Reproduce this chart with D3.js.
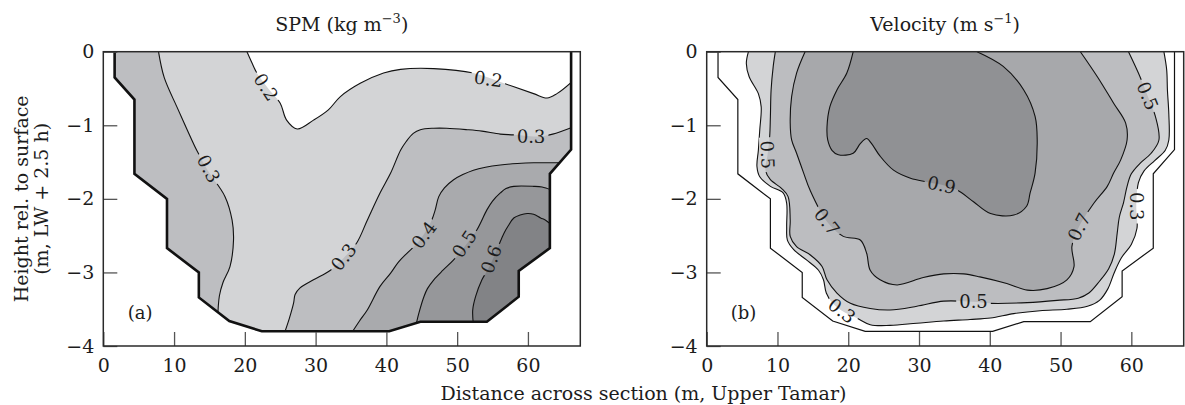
<!DOCTYPE html>
<html><head><meta charset="utf-8">
<script src="https://cdn.jsdelivr.net/npm/d3@7"></script>
<style>
body{margin:0;background:#fff;}
svg text{font-family:"DejaVu Serif",serif;fill:#1c1c1c;}
</style></head><body>
<svg id="chart" width="1185" height="405"></svg>
<script>
// ---------- data ----------
const xTicks = [0,10,20,30,40,50,60];
const yTicks = [0,-1,-2,-3,-4];
const xDomain = [0,67.4];
const yDomain = [-4,0];
const panelTitles = ["SPM (kg m", "Velocity (m s"];
const titleExponents = ["−3", "−1"];
const panelLetters = ["(a)", "(b)"];
const xTitle = "Distance across section (m, Upper Tamar)";
const yTitleLines = ["Height rel. to surface", "(m, LW + 2.5 h)"];

// channel cross-section outline (distance m, height m)
const section = [[1.6,0],[1.6,-0.35],[4.4,-0.65],[4.4,-1.66],[9.0,-2.0],[9.0,-2.67],[13.5,-3.0],[13.5,-3.34],[17.8,-3.66],[22.4,-3.80],[40.4,-3.80],[44.8,-3.67],[54.2,-3.67],[58.7,-3.33],[58.7,-2.98],[63.1,-2.67],[63.1,-1.66],[66.1,-1.33],[66.1,0]];

// SPM contours
const spm02 = [[20.3,0],[21.0,-0.15],[21.7,-0.29],[23.3,-0.50],[25.0,-0.70],[25.9,-0.93],[27.4,-1.05],[29.7,-0.93],[31.8,-0.79],[33.5,-0.61],[36.3,-0.43],[39.6,-0.29],[42.0,-0.24],[46.7,-0.23],[52.3,-0.29],[56.6,-0.43],[60.8,-0.57],[62.7,-0.63],[64.1,-0.57],[66.2,-0.41]];
const spm03L = [[7.8,0],[8.6,-0.35],[10.4,-0.75],[11.8,-1.05],[13.2,-1.34],[14.8,-1.62],[17.2,-1.97],[18.2,-2.29],[18.4,-2.56],[17.9,-2.92],[16.9,-3.14],[16.4,-3.32],[16.15,-3.65]];
const spm03R = [[66.2,-1.03],[63.5,-1.12],[61.8,-1.15],[60.4,-1.15],[58.0,-1.13],[56.1,-1.12],[53.5,-1.08],[51.4,-1.06],[48.5,-1.04],[46.7,-1.04],[44.8,-1.06],[43.8,-1.11],[42.8,-1.22],[42.0,-1.34],[40.6,-1.65],[39.1,-1.92],[37.3,-2.29],[35.8,-2.60],[34.0,-2.80],[32.1,-2.97],[29.7,-3.10],[27.8,-3.21],[27.1,-3.30],[26.9,-3.41],[26.3,-3.62],[25.5,-3.85]];
const spm04 = [[64.6,-1.51],[62.5,-1.51],[60.8,-1.51],[58.5,-1.52],[56.1,-1.54],[54.0,-1.57],[52.3,-1.61],[50.8,-1.67],[49.5,-1.74],[48.2,-1.85],[47.4,-1.97],[46.9,-2.15],[46.4,-2.29],[45.3,-2.48],[44.2,-2.62],[42.9,-2.74],[41.7,-2.86],[40.6,-3.01],[39.1,-3.19],[37.3,-3.51],[36.2,-3.66],[34.9,-3.85]];
const spm05 = [[63.3,-1.88],[62.0,-1.84],[60.8,-1.83],[58.0,-1.83],[56.9,-1.86],[56.1,-1.92],[55.0,-2.03],[54.2,-2.15],[52.8,-2.42],[51.2,-2.63],[49.5,-2.83],[48.0,-2.97],[46.7,-3.10],[45.8,-3.22],[45.3,-3.33],[44.6,-3.55],[44.1,-3.75]];
const spm06 = [[63.3,-2.35],[62.5,-2.29],[61.8,-2.26],[60.8,-2.21],[59.9,-2.20],[58.9,-2.22],[58.0,-2.26],[57.2,-2.37],[56.6,-2.47],[55.8,-2.65],[54.9,-2.85],[54.1,-3.00],[53.5,-3.10],[52.6,-3.33],[52.2,-3.51],[52.3,-3.72]];
// closing points (along the frame) for the filled bands
const spmClose02 = [[67.4,-0.41],[67.4,0]];
const spmClose03L = [[16.15,-4],[0,-4],[0,0]];
const spmClose03R = [[25.5,-4],[67.4,-4],[67.4,-1.03]];
const spmClose04 = [[34.9,-4],[67.4,-4],[67.4,-1.51]];
const spmClose05 = [[44.1,-4],[67.4,-4],[67.4,-1.88]];
const spmClose06 = [[52.3,-4],[67.4,-4],[67.4,-2.35]];
const spmLabelText = ["0.2","0.3","0.2","0.3","0.3","0.4","0.5","0.6"];
const spmLabelPos = [[23.0,-0.48],[14.9,-1.59],[54.4,-0.37],[60.45,-1.15],[33.95,-2.79],[45.3,-2.49],[51.0,-2.61],[54.8,-2.82]];
const spmLabelAngle = [57,62,8,1,-52,-53,-56,-70];

// Velocity contours
const vel03 = [[5.9,0],[5.6,-0.16],[6.0,-0.34],[7.3,-0.57],[7.7,-0.75],[7.5,-1.06],[7.3,-1.34],[7.1,-1.56],[7.5,-1.70],[9.0,-1.83],[10.8,-1.92],[11.3,-2.06],[11.3,-2.38],[11.4,-2.56],[12.3,-2.69],[14.1,-2.83],[15.8,-2.97],[16.5,-3.10],[16.9,-3.28],[17.8,-3.42],[19.1,-3.52],[21.2,-3.62],[23.1,-3.71],[25.9,-3.72],[29.7,-3.69],[33.5,-3.66],[37.2,-3.64],[40.1,-3.62],[43.4,-3.56],[47.1,-3.52],[50.9,-3.50],[53.8,-3.46],[55.5,-3.38],[56.7,-3.22],[57.6,-3.00],[58.6,-2.80],[60.0,-2.62],[60.8,-2.40],[60.7,-2.10],[61.0,-1.78],[61.8,-1.62],[63.3,-1.48],[64.8,-1.34],[65.3,-1.20],[65.3,-0.85],[65.1,-0.52],[65.0,-0.25],[64.6,0]];
const vel05 = [[9.7,0],[9.4,-0.20],[9.1,-0.52],[9.0,-0.88],[8.9,-1.15],[8.6,-1.40],[8.3,-1.61],[9.0,-1.74],[10.6,-1.86],[11.5,-1.97],[11.8,-2.29],[11.8,-2.51],[12.7,-2.65],[14.6,-2.76],[16.3,-2.92],[17.0,-3.10],[18.4,-3.28],[20.3,-3.42],[23.1,-3.49],[25.9,-3.51],[29.7,-3.46],[33.5,-3.39],[37.7,-3.40],[40.1,-3.42],[45.3,-3.41],[49.5,-3.38],[52.5,-3.35],[54.0,-3.28],[55.5,-3.12],[56.8,-2.95],[57.6,-2.75],[58.0,-2.47],[58.3,-2.25],[58.9,-2.05],[59.4,-1.83],[60.0,-1.66],[61.2,-1.52],[62.8,-1.38],[63.9,-1.20],[63.4,-0.88],[62.3,-0.60],[61.0,-0.29],[59.6,0]];
const vel07 = [[13.9,0],[12.7,-0.29],[12.0,-0.61],[11.8,-0.97],[12.0,-1.20],[12.7,-1.38],[13.7,-1.65],[14.6,-1.88],[17.0,-2.31],[19.3,-2.51],[21.7,-2.56],[22.6,-2.74],[23.1,-2.97],[24.5,-3.10],[26.9,-3.17],[30.6,-3.07],[33.5,-3.02],[36.3,-3.02],[38.6,-3.06],[42.4,-3.15],[45.3,-3.24],[48.1,-3.22],[50.9,-3.10],[51.9,-2.92],[51.6,-2.65],[52.6,-2.38],[54.7,-2.06],[56.6,-1.83],[57.5,-1.65],[58.5,-1.47],[59.4,-1.20],[59.2,-0.97],[57.5,-0.70],[55.2,-0.34],[52.8,0]];
const vel09 = [[20.7,0],[19.8,-0.29],[18.4,-0.52],[17.4,-0.75],[17.0,-1.02],[17.1,-1.20],[17.7,-1.34],[18.6,-1.40],[20.7,-1.38],[21.7,-1.25],[22.6,-1.18],[23.3,-1.25],[24.5,-1.42],[26.4,-1.61],[28.8,-1.72],[31.1,-1.77],[33.2,-1.81],[35.4,-1.88],[37.7,-2.04],[40.1,-2.20],[43.4,-2.22],[45.2,-2.10],[45.7,-1.92],[46.4,-1.65],[46.7,-1.20],[46.4,-0.88],[44.8,-0.52],[41.9,-0.20],[38.2,0]];
const velLabelText = ["0.5","0.7","0.3","0.9","0.5","0.7","0.3","0.5"];
const velLabelPos = [[8.6,-1.40],[17.0,-2.31],[19.1,-3.52],[33.2,-1.81],[37.7,-3.40],[52.6,-2.38],[60.7,-2.10],[62.3,-0.60]];
const velLabelAngle = [88,52,38,12,0,-63,90,68];

// ---------- drawing ----------
const svg = d3.select('#chart');
const defs = svg.append('defs');
const W = 477, H = 294.3, TOP = 51.7;
const PANEL_LEFT = [103.3, 706.7];
const x = d3.scaleLinear().domain(xDomain).range([0, W]);
const y = d3.scaleLinear().domain(yDomain).range([H, 0]);
const smooth = d3.line().x(d=>x(d[0])).y(d=>y(d[1])).curve(d3.curveCatmullRom.alpha(0.5));
const straight = d3.line().x(d=>x(d[0])).y(d=>y(d[1]));
function region(pts, close){ let p = smooth(pts); close.forEach(c=>{ p += `L${x(c[0])},${y(c[1])}`; }); return p + 'Z'; }
const intFmt = d3.format('d');

function panel(i, cfg){
  const g = svg.append('g').attr('transform', `translate(${PANEL_LEFT[i]},${TOP})`);
  const id = 'p'+i;
  defs.append('clipPath').attr('id', id+'clip').append('path').attr('d', straight(section)+'Z');
  const fills = g.append('g').attr('clip-path', `url(#${id}clip)`);
  fills.append('path').attr('d', straight(section)+'Z').attr('fill', cfg.base);
  cfg.fills.forEach(f => fills.append('path').attr('d', region(f[0], f[1])).attr('fill', f[2]));
  // mask for label gaps
  const mask = defs.append('mask').attr('id', id+'mask').attr('maskUnits','userSpaceOnUse')
    .attr('x',-20).attr('y',-20).attr('width',W+40).attr('height',H+40);
  mask.append('rect').attr('x',-20).attr('y',-20).attr('width',W+40).attr('height',H+40).attr('fill','#fff');
  const lines = g.append('g').attr('clip-path', `url(#${id}clip)`).append('g').attr('mask', `url(#${id}mask)`);
  cfg.lines.forEach(l => lines.append('path').attr('d', smooth(l)).attr('fill','none').attr('stroke','#111').attr('stroke-width',1.1));
  // boundary
  g.append('path').attr('d', straight(section)).attr('fill','none').attr('stroke','#111')
    .attr('stroke-width', cfg.boundaryWidth).attr('stroke-linejoin','miter');
  // labels
  cfg.labelText.forEach((t, k) => {
    const p = cfg.labelPos[k], a = cfg.labelAngle[k];
    const tx = g.append('text').attr('transform', `translate(${x(p[0])},${y(p[1])}) rotate(${a})`)
      .attr('text-anchor','middle').attr('dy','0.36em').attr('font-size',18).text(t);
    const w = tx.node().getComputedTextLength();
    mask.append('rect').attr('x', -w/2-3).attr('y', -8).attr('width', w+6).attr('height', 16)
      .attr('fill','#000').attr('transform', `translate(${x(p[0])},${y(p[1])}) rotate(${a})`);
  });
  // axes
  const ax = g.append('g').attr('transform', `translate(0,${H})`)
    .call(d3.axisBottom(x).tickValues(xTicks).tickFormat(intFmt).tickSize(-14).tickSizeOuter(0).tickPadding(13));
  const ay = g.append('g')
    .call(d3.axisLeft(y).tickValues(yTicks).tickFormat(intFmt).tickSize(-14).tickSizeOuter(0).tickPadding(9));
  [ax, ay].forEach(a => {
    a.select('.domain').remove();
    a.selectAll('line').attr('stroke','#555').attr('stroke-width',1.3);
    a.selectAll('text').attr('font-size',19).attr('font-family','"DejaVu Serif",serif').attr('fill','#1c1c1c');
  });
  // frame
  g.append('rect').attr('width', W).attr('height', H).attr('fill','none').attr('stroke','#2a2a2a').attr('stroke-width',1.5);
  // title
  const tt = g.append('text').attr('x', W/2).attr('y', -20.7).attr('text-anchor','middle').attr('font-size',19);
  tt.append('tspan').text(panelTitles[i]);
  tt.append('tspan').attr('dy',-8).attr('font-size',13).text(titleExponents[i]);
  tt.append('tspan').attr('dy',8).text(')');
  // panel letter
  g.append('text').attr('x', x(5.2)).attr('y', y(-3.55)).attr('dy','0.35em').attr('text-anchor','middle')
    .attr('font-size',18).text(panelLetters[i]);
}

panel(0, {
  base: '#d3d4d6',
  fills: [[spm02, spmClose02, '#ffffff'], [spm03L, spmClose03L, '#bdbec1'], [spm03R, spmClose03R, '#bdbec1'],
          [spm04, spmClose04, '#a9aaad'], [spm05, spmClose05, '#96979a'], [spm06, spmClose06, '#828386']],
  lines: [spm02, spm03L, spm03R, spm04, spm05, spm06],
  boundaryWidth: 2.6,
  labelText: spmLabelText, labelPos: spmLabelPos, labelAngle: spmLabelAngle
});
panel(1, {
  base: '#ffffff',
  fills: [[vel03, [], '#d3d4d6'], [vel05, [], '#bcbdc0'], [vel07, [], '#a7a8ab'], [vel09, [], '#909194']],
  lines: [vel03, vel05, vel07, vel09],
  boundaryWidth: 1.2,
  labelText: velLabelText, labelPos: velLabelPos, labelAngle: velLabelAngle
});

// shared axis titles
svg.append('text').attr('x', (PANEL_LEFT[0] + PANEL_LEFT[1] + W)/2).attr('y', 400).attr('text-anchor','middle')
  .attr('font-size',19).text(xTitle);
const yt = svg.append('text').attr('transform', `translate(0,${TOP + H/2}) rotate(-90)`).attr('text-anchor','middle').attr('font-size',19);
yt.append('tspan').attr('x',0).attr('y',28).text(yTitleLines[0]);
yt.append('tspan').attr('x',0).attr('y',48).text(yTitleLines[1]);
</script></body></html>
